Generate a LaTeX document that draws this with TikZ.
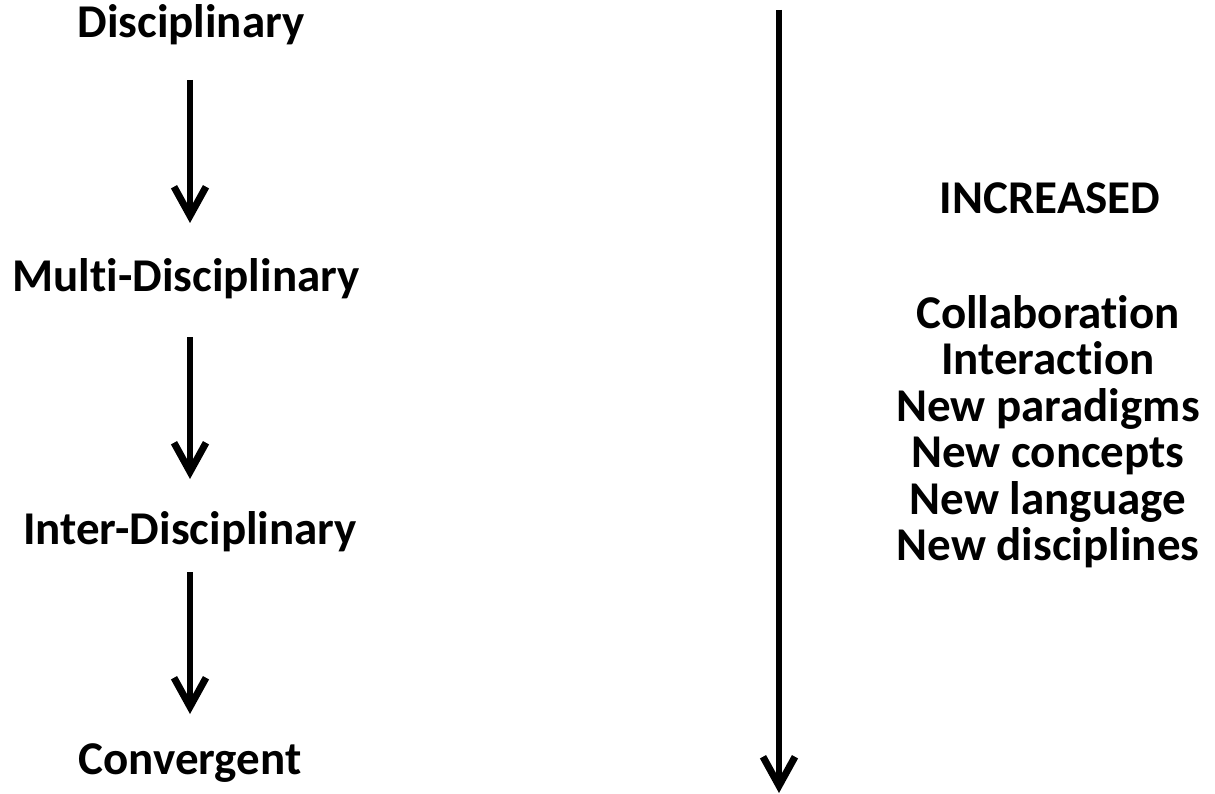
\documentclass[tikz,border=0pt]{standalone}
\usepackage{fontspec}
\setmainfont{Carlito}[RawFeature={-liga;-clig}]
\usetikzlibrary{arrows.meta}
\tikzset{
  lbl/.style={font=\bfseries\fontsize{47}{56}\selectfont, inner sep=0pt, anchor=base},
  flow/.style={line width=5.5pt, -{Straight Barb[length=29pt,width=32pt,line width=7pt]}},
}
\begin{document}
\begin{tikzpicture}[x=1pt,y=-1pt]
\useasboundingbox (0,0) rectangle (1215,794);
\node[lbl] (d) at (191,38) {Disciplinary};
\node[lbl] (m) at (186,291) {Multi-Disciplinary};
\node[lbl] (i) at (190,544) {Inter-Disciplinary};
\node[lbl] (c) at (190,774) {Convergent};
\coordinate (a1s) at (190,80);  \coordinate (a1e) at (190,223);
\coordinate (a2s) at (190,337); \coordinate (a2e) at (190,479);
\coordinate (a3s) at (190,572); \coordinate (a3e) at (190,714);
\draw[flow] (a1s) -- (a1e);
\draw[flow] (a2s) -- (a2e);
\draw[flow] (a3s) -- (a3e);
\coordinate (rs) at (779,10); \coordinate (re) at (779,793);
\draw[flow] (rs) -- (re);
\node[lbl] (inc) at (1050,214) {INCREASED};
\node[lbl] (r1) at (1048,328) {Collaboration};
\node[lbl] (r2) at (1048,374.5) {Interaction};
\node[lbl] (r3) at (1048,421) {New paradigms};
\node[lbl] (r4) at (1048,467.5) {New concepts};
\node[lbl] (r5) at (1048,514) {New language};
\node[lbl] (r6) at (1048,560.5) {New disciplines};
\end{tikzpicture}
\end{document}
